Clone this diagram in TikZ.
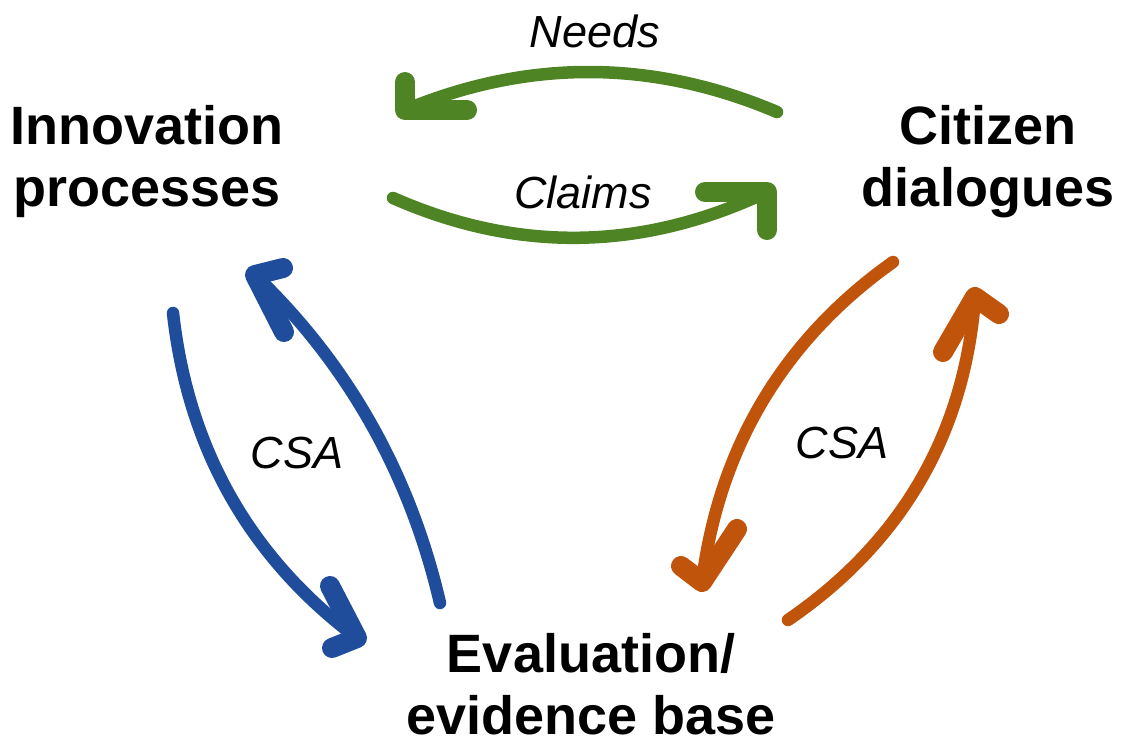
\documentclass[tikz,border=0pt]{standalone}
\usepackage{fontspec}
\setmainfont{Liberation Sans}
\begin{document}
\begin{tikzpicture}[x=1pt,y=-1pt,
  every node/.style={inner sep=0pt, outer sep=0pt},
  title/.style={font=\fontsize{54}{62}\selectfont\bfseries, align=center, anchor=base},
  tag/.style={font=\fontsize{45}{50}\selectfont\itshape, anchor=base},
  shaft/.style={line width=12.5pt, line cap=round, line join=round},
  barb/.style={line width=20pt, line cap=round, line join=round},
]
\definecolor{leafgreen}{RGB}{78,132,36}
\definecolor{deepblue}{RGB}{31,77,156}
\definecolor{burnt}{RGB}{192,84,11}

\useasboundingbox (0,0) rectangle (1124,745);

% the three parties (anchored at the baseline of the last line)
\node[title] (inno) at (147,206) {Innovation\\processes};
\node[title] (citi) at (988,206) {Citizen\\dialogues};
\node[title] (eval) at (591,734) {Evaluation/\\evidence base};

% edge labels
\node[tag] (needs)  at (595,47)  {Needs};
\node[tag] (claims) at (583,208) {Claims};
\node[tag] (csaL)   at (297,468) {CSA};
\node[tag] (csaR)   at (842,458) {CSA};

% end points of the hand-drawn arrows
\coordinate (nS) at (777,112);  \coordinate (nT) at (405,110);
\coordinate (nA) at (405,82);   \coordinate (nB) at (467,110);

\coordinate (cS) at (393,198);  \coordinate (cT) at (767,192);
\coordinate (cA) at (705,192);  \coordinate (cB) at (767,230);

\coordinate (bdS) at (173,313); \coordinate (bdT) at (357,638);
\coordinate (bdA) at (330,586); \coordinate (bdB) at (332,648);

\coordinate (buS) at (440,603); \coordinate (buT) at (255,275);
\coordinate (buA) at (283,268); \coordinate (buB) at (284,332);

\coordinate (odS) at (893,262); \coordinate (odT) at (702,582);
\coordinate (odA) at (737,529); \coordinate (odB) at (681,566);

\coordinate (ouS) at (788,620); \coordinate (ouT) at (975,297);
\coordinate (ouA) at (999,314); \coordinate (ouB) at (943,352);

% green: innovation <-> citizens
\draw[shaft, leafgreen] (nS) .. controls (652,59) and (528,59) .. (nT);
\draw[barb, leafgreen] (nA) -- (nT) -- (nB);
\draw[shaft, leafgreen] (cS) .. controls (518,253) and (642,251) .. (cT);
\draw[barb, leafgreen] (cA) -- (cT) -- (cB);

% blue: innovation <-> evaluation
\draw[shaft, deepblue] (bdS) .. controls (188,448) and (249,557) .. (bdT);
\draw[barb, deepblue] (bdA) -- (bdT) -- (bdB);
\draw[shaft, deepblue] (buS) .. controls (410,474) and (348,364) .. (buT);
\draw[barb, deepblue] (buA) -- (buT) -- (buB);

% orange: citizens <-> evaluation
\draw[shaft, burnt] (odS) .. controls (783,340) and (719,448) .. (odT);
\draw[barb, burnt] (odA) -- (odT) -- (odB);
\draw[shaft, burnt] (ouS) .. controls (902,542) and (965,433) .. (ouT);
\draw[barb, burnt] (ouA) -- (ouT) -- (ouB);
\end{tikzpicture}
\end{document}
